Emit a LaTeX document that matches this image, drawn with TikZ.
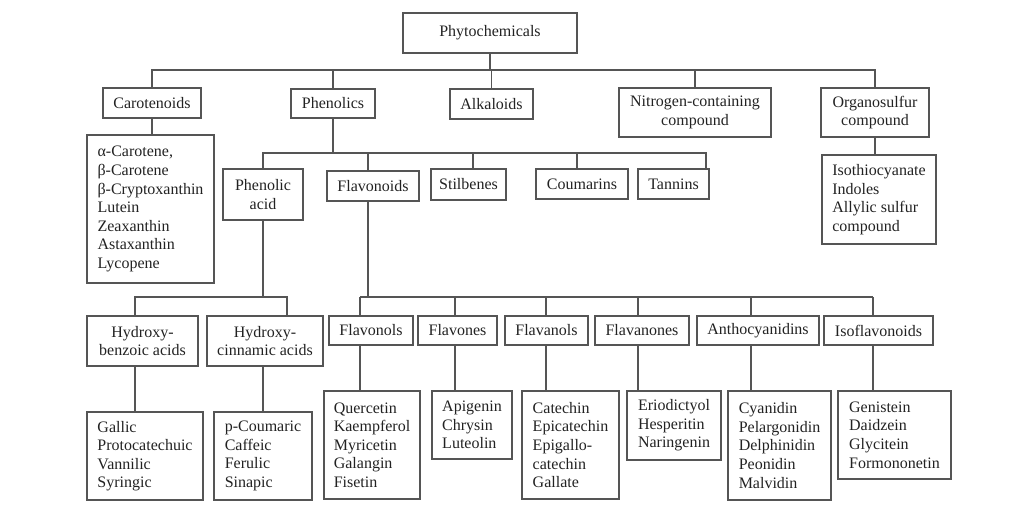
\documentclass[tikz,border=0pt]{standalone}
\usepackage{fontspec}
\setmainfont{Liberation Serif}
\definecolor{linegray}{HTML}{555555}
\definecolor{textgray}{HTML}{222222}

\begin{document}
\begin{tikzpicture}[x=0.75pt, y=-0.75pt,
  box/.style={draw=linegray, line width=1pt, inner sep=0pt, align=center,
    text=textgray, font=\fontsize{12}{13.9}\selectfont},
  listbox/.style={box, align=left},
  sz/.style 2 args={minimum width=#1*0.75pt, minimum height=#2*0.75pt},
  wire/.style={draw=linegray, line width=1pt}]

\useasboundingbox (0,0) rectangle (1024,525);

% top levels
\node[box, line width=1.8pt, sz={174}{40}] (phyto) at (490,33) {Phytochemicals};
\node[box, sz={98}{30}] (caro) at (152,103) {Carotenoids};
\node[box, sz={84}{29}] (pheno) at (333,103.5) {Phenolics};
\node[box, sz={83}{30}] (alka) at (491.5,104) {Alkaloids};
\node[box, sz={152}{49}] (nitro) at (695,112.5) {Nitrogen-containing\\compound};
\node[box, sz={108}{49}] (orga) at (875,112.5) {Organosulfur\\compound};

\node[listbox, sz={127}{148}] (carolist) at (150.5,209) {α-Carotene,\\β-Carotene\\β-Cryptoxanthin\\Lutein\\Zeaxanthin\\Astaxanthin\\Lycopene};
\node[listbox, sz={114}{89}] (orgalist) at (879,199.5) {Isothiocyanate\\Indoles\\Allylic sulfur\\compound};

% phenolics
\node[box, sz={80}{51}] (phacid) at (263,194.5) {Phenolic\\acid};
\node[box, sz={92}{30}] (flavo) at (373,186) {Flavonoids};
\node[box, sz={75}{31}] (stil) at (468.5,184.5) {Stilbenes};
\node[box, sz={92}{30}] (coum) at (582,184) {Coumarins};
\node[box, sz={71}{30}] (tann) at (673.5,184) {Tannins};

\node[box, sz={111}{50}] (hbenz) at (142.5,341) {Hydroxy-\\benzoic acids};
\node[box, sz={116}{50}] (hcinn) at (265,341) {Hydroxy-\\cinnamic acids};
\node[listbox, sz={116}{88}] (gallic) at (145,456) {Gallic\\Protocatechuic\\Vannilic\\Syringic};
\node[listbox, sz={98}{88}] (pcoum) at (263,456) {p-Coumaric\\Caffeic\\Ferulic\\Sinapic};

% flavonoids
\node[box, sz={84}{29}] (flol) at (371,330.5) {Flavonols};
\node[box, sz={79}{29}] (flon) at (457.5,330.5) {Flavones};
\node[box, sz={83}{29}] (flan) at (546.5,330.5) {Flavanols};
\node[box, sz={94}{29}] (flnn) at (642,330.5) {Flavanones};
\node[box, sz={122}{29}] (anth) at (758,330.5) {Anthocyanidins};
\node[box, sz={109}{29}] (isof) at (878.5,330.5) {Isoflavonoids};

\node[listbox, sz={96}{108}] (quer) at (372,445) {Quercetin\\Kaempferol\\Myricetin\\Galangin\\Fisetin};
\node[listbox, sz={80}{68}] (apig) at (472,425) {Apigenin\\Chrysin\\Luteolin};
\node[listbox, sz={97}{108}] (cate) at (570.5,445) {Catechin\\Epicatechin\\Epigallo-\\catechin\\Gallate};
\node[listbox, sz={94}{69}] (erio) at (674,425.5) {Eriodictyol\\Hesperitin\\Naringenin};
\node[listbox, sz={103}{109}] (cyan) at (779.5,445.5) {Cyanidin\\Pelargonidin\\Delphinidin\\Peonidin\\Malvidin};
\node[listbox, sz={113}{88}] (geni) at (894.5,435) {Genistein\\Daidzein\\Glycitein\\Formononetin};

% connectors
\coordinate (bus1) at (0,70);
\coordinate (bus2) at (0,153);

\draw[wire] (phyto.south) -- (phyto.south |- bus1);
\draw[wire] (caro.north) |- (orga.north |- bus1) -- (orga.north);
\foreach \n in {pheno, alka, nitro}
  \draw[wire] (\n.north) -- (\n.north |- bus1);
\draw[wire] (caro.south) -- (caro.south |- carolist.north);
\draw[wire] (orga.south) -- (orga.south |- orgalist.north);

\coordinate (tanx) at (706,153);
\draw[wire] (pheno.south) -- (pheno.south |- bus2);
\draw[wire] (phacid.north) |- (tanx) -- (tanx |- tann.north);
\foreach \n/\x in {flavo/368, stil/473, coum/577}{
  \coordinate (k) at (\x,153);
  \draw[wire] (k) -- (k |- \n.north);
}

\coordinate (hbx) at (135,297);
\coordinate (hcx) at (287,297);
\draw[wire] (phacid.south) -- (phacid.south |- hbx);
\draw[wire] (hbenz.north -| hbx) -- (hbx) -- (hcx) -- (hcx |- hcinn.north);
\draw[wire] (hbx |- hbenz.south) -- (hbx |- gallic.north);
\draw[wire] (pcoum.north) -- (pcoum.north |- hcinn.south);

\coordinate (flx) at (368,297);
\draw[wire] (flx |- flavo.south) -- (flx);
\foreach \m/\l/\x [count=\i] in {flol/quer/360, flon/apig/455, flan/cate/546,
    flnn/erio/638, anth/cyan/751, isof/geni/873}{
  \coordinate (c\i) at (\x,297);
  \draw[wire] (c\i) -- (c\i |- \m.north);
  \draw[wire] (c\i |- \m.south) -- (c\i |- \l.north);
}
\draw[wire] (c1) -- (c6);

\end{tikzpicture}
\end{document}
